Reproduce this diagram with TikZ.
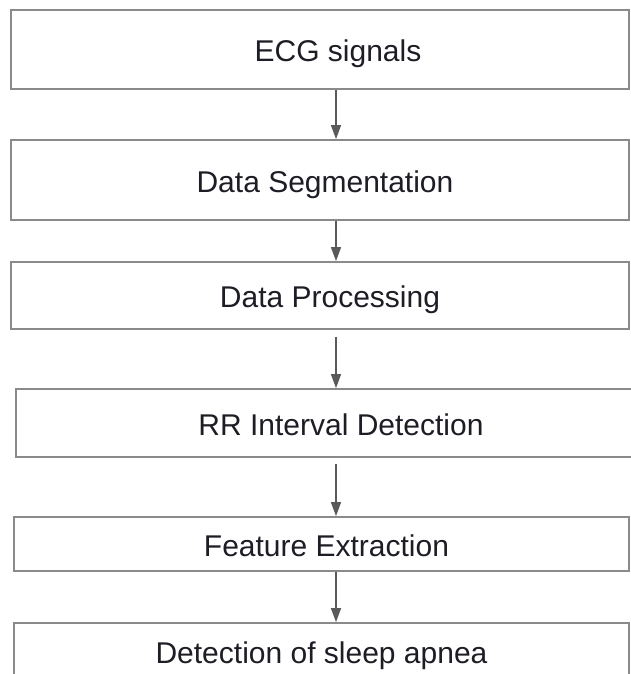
\documentclass[tikz,border=0pt]{standalone}
\usepackage{fontspec}
\setmainfont{Liberation Sans}
\usepackage{xcolor}
\usetikzlibrary{arrows.meta,positioning,calc}

\definecolor{boxgray}{RGB}{138,138,138}
\definecolor{arrowgray}{RGB}{90,90,90}
\definecolor{textdark}{RGB}{30,28,36}

\begin{document}
\begin{tikzpicture}[x=1pt,y=-1pt,
    stage/.style={draw=boxgray,line width=1.8pt,minimum width=618pt,inner sep=0pt,
      text height=24pt,text depth=0pt,text=textdark,font=\fontsize{30}{34}\selectfont},
    flow/.style={draw=arrowgray,line width=1.4pt,-{Triangle[length=14pt,width=10pt]}}]
  \useasboundingbox (0,0) rectangle (631,674);
  % text sits a little right of the box centre in the original
  \node[stage,minimum height=79pt] (ecg) at (320,49.5) {\hspace*{36pt}ECG signals};
  \node[stage,minimum height=80pt] (seg) at (320,180) {\hspace*{10pt}Data Segmentation};
  \node[stage,minimum height=67pt] (proc) at (320,295.5) {\hspace*{20pt}Data Processing};
  \node[stage,minimum height=68pt,minimum width=644pt] (rr) at (338,423) {\hspace*{6pt}RR Interval Detection};
  \node[stage,minimum height=54pt,minimum width=615pt] (feat) at (321.5,544) {\hspace*{10pt}Feature Extraction};
  \node[stage,minimum height=56pt,minimum width=615pt] (apnea) at (321.5,651) {Detection of sleep apnea};
  \coordinate (axis) at (336,0);
  \draw[flow] (ecg.south -| axis) -- (seg.north -| axis);
  \draw[flow] (seg.south -| axis) -- (proc.north -| axis);
  \draw[flow,shorten <=7pt] (proc.south -| axis) -- (rr.north -| axis);
  \draw[flow,shorten <=6pt] (rr.south -| axis) -- (feat.north -| axis);
  \draw[flow] (feat.south -| axis) -- (apnea.north -| axis);
\end{tikzpicture}
\end{document}
